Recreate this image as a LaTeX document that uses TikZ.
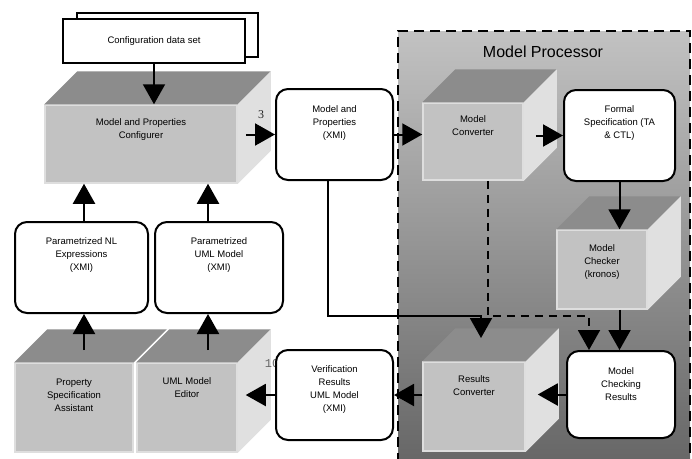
\documentclass[tikz,border=0pt]{standalone}
\usepackage{fontspec}
\setmainfont{Liberation Sans}
\newfontfamily\numfont{Liberation Serif}
\newfontfamily\codefont{Liberation Mono}
\usetikzlibrary{arrows.meta, positioning}

\begin{document}
\begin{tikzpicture}[x=1pt, y=-1pt,
  every node/.style={font=\fontsize{9.5}{13}\selectfont, align=center},
  doc/.style={draw=black, line width=2pt, rounded corners=12pt, fill=white, inner sep=2pt},
  sheet/.style={draw=black, line width=2pt, fill=white},
  front/.style={fill=black!24, draw=black!13, line width=1.5pt},
  cubetop/.style={fill=black!45},
  cuberight/.style={fill=black!12},
  arr/.style={-{Triangle[length=20pt,width=22pt]}, line width=2pt},
  proc/.style={top color=black!24, bottom color=black!60, draw=black, line width=2pt,
    dash pattern=on 10pt off 6pt}]
\useasboundingbox (0,0) rectangle (692,458);

% model processor frame
\node[proc, minimum width=292, minimum height=434] (proc) at (544,248) {};
\node[font=\fontsize{16}{18}\selectfont] (title) at (543,52) {Model Processor};

% cubes
\node[front, minimum width=192, minimum height=78, text depth=30pt] (mpc) at (141,144) {Model and Properties\\Configurer};
\node[front, minimum width=100, minimum height=77, text depth=32pt] (mc) at (473,141.5) {Model\\Converter};
\node[front, minimum width=90, minimum height=79, text depth=16pt] (mch) at (602,269.5) {Model\\Checker\\(kronos)};
\node[front, minimum width=102, minimum height=89, text depth=42pt] (rc) at (474,406.5) {Results\\Converter};
\node[front, minimum width=118, minimum height=89, text depth=24pt] (psa) at (74,407.5) {Property\\Specification\\Assistant};
\foreach \n in {mpc,mc,mch,rc,psa}
  \fill[cubetop] (\n.north west) -- ++(33,-33) -- ([shift={(33,-33)}]\n.north east) -- (\n.north east) -- cycle;
\foreach \n in {mpc,mc,mch,rc}
  \fill[cuberight] (\n.north east) -- ++(33,-33) -- ([shift={(33,-33)}]\n.south east) -- (\n.south east) -- cycle;
\node[front, minimum width=100, minimum height=89, text depth=40pt] (ue) at (187,407.5) {UML Model\\Editor};
\fill[cubetop] (ue.north west) -- ++(33,-33) -- ([shift={(33,-33)}]ue.north east) -- (ue.north east) -- cycle;
\fill[cuberight] (ue.north east) -- ++(33,-33) -- ([shift={(33,-33)}]ue.south east) -- (ue.south east) -- cycle;

% data nodes
\node[sheet, minimum width=181, minimum height=44] (cfgback) at (167.5,35) {};
\node[sheet, minimum width=182, minimum height=44] (cfg) at (154,41) {Configuration data set};
\node[doc, minimum width=117, minimum height=91, text depth=25pt] (mp) at (334.5,134.5) {Model and\\Properties\\(XMI)};
\node[doc, minimum width=111, minimum height=91, text depth=26pt] (fs) at (619.5,135.5) {Formal\\Specification (TA\\\& CTL)};
\node[doc, minimum width=108, minimum height=87, text depth=21pt] (mcr) at (621,394.5) {Model\\Checking\\Results};
\node[doc, minimum width=133, minimum height=91, text depth=26pt] (nl) at (81.5,267.5) {Parametrized NL\\Expressions\\(XMI)};
\node[doc, minimum width=128, minimum height=91, text depth=26pt] (uml) at (219,267.5) {Parametrized\\UML Model\\(XMI)};
\node[font=\codefont\fontsize{12}{13}\selectfont, text=black!60] (ten) at (272,364) {10};
\node[doc, minimum width=117, minimum height=90, text depth=12pt] (vr) at (334.5,395) {Verification\\Results\\UML Model\\(XMI)};
\node[font=\numfont\fontsize{12}{13}\selectfont, text=black!85] (three) at (261,115) {3};

% connectors
\coordinate (mpcR) at ([xshift=8pt]mpc.east);
\coordinate (mcR) at ([xshift=12pt]mc.east);
\coordinate (rcR) at ([xshift=12pt]rc.east);
\coordinate (ueR) at ([xshift=8pt]ue.east);
\coordinate (dashA) at ([xshift=15pt]mc.south);
\coordinate (mpS) at ([xshift=-7pt]mp.south);
\coordinate (bend) at (0,316);
\coordinate (dashB) at (589,316);
\coordinate (rcT) at (481,338);
\coordinate (psaT) at (84,350);
\coordinate (ueT) at (208,350);

\draw[arr] (cfg.south) -- (cfg.south |- mpc.north);
\draw[arr] (mpcR |- mp.west) -- (mp.west);
\draw[arr] (mp.east) -- (mp.east -| mc.west);
\draw[arr] (mcR |- fs.west) -- (fs.west);
\draw[arr] (fs.south) -- (fs.south |- mch.north);
\draw[arr] (fs.south |- mch.south) -- (fs.south |- mcr.north);
\draw[arr, dash pattern=on 8pt off 6pt] (dashA) -- (dashA |- bend) -- (dashB) -- (dashB |- mcr.north);
\draw[arr] (mpS) -- (mpS |- bend) -- (rcT |- bend) -- (rcT);
\draw[arr] (mcr.west) -- (mcr.west -| rcR);
\draw[arr] (vr.east -| rc.west) -- (vr.east);
\draw[arr] (vr.west) -- (vr.west -| ueR);
\draw[arr] (psaT) -- (psaT |- nl.south);
\draw[arr] (ueT) -- (ueT |- uml.south);
\draw[arr] (psaT |- nl.north) -- (psaT |- mpc.south);
\draw[arr] (ueT |- uml.north) -- (ueT |- mpc.south);
\end{tikzpicture}
\end{document}
